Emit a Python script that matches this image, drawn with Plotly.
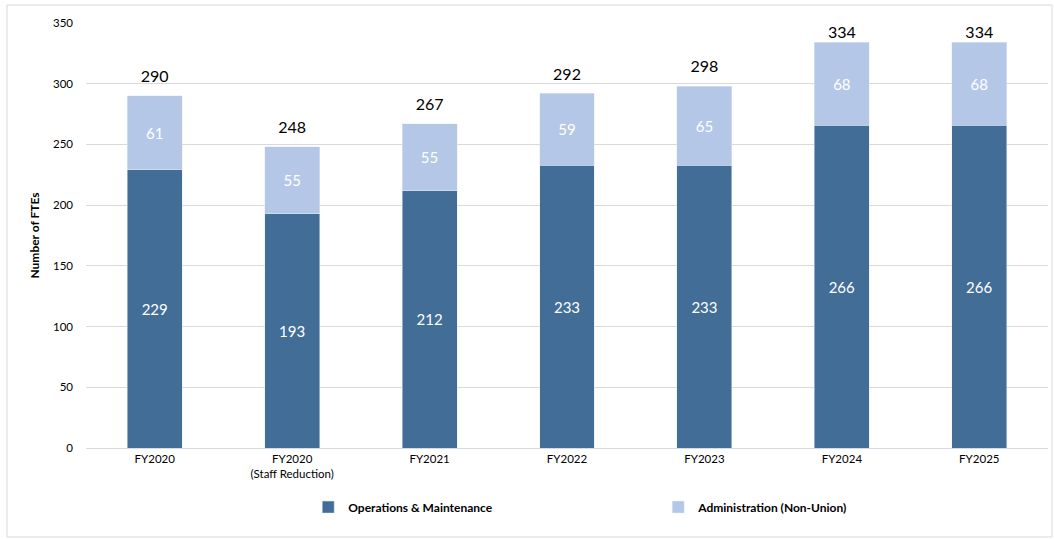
import plotly.graph_objects as go

categories = ["FY2020", "FY2020<br>(Staff Reduction)", "FY2021", "FY2022", "FY2023", "FY2024", "FY2025"]
ops_maint = [229, 193, 212, 233, 233, 266, 266]
admin = [61, 55, 55, 59, 65, 68, 68]
totals = [290, 248, 267, 292, 298, 334, 334]

DARK = "#416d97"
LIGHT = "#b4c7e7"
FONT = "Lato"
Y_MAX = 350

fig = go.Figure()
fig.add_trace(go.Bar(
    x=categories, y=ops_maint, name="Operations & Maintenance",
    marker=dict(color=DARK), width=0.4,
    text=ops_maint, textposition="inside", insidetextanchor="middle",
    textfont=dict(color="white", size=15, family=FONT),
))
fig.add_trace(go.Bar(
    x=categories, y=admin, name="Administration (Non-Union)",
    marker=dict(color=LIGHT), width=0.4,
    text=admin, textposition="inside", insidetextanchor="middle",
    textfont=dict(color="white", size=15, family=FONT),
))
# total labels: kept inside the plot area when near the top (as in the reference)
label_offsets = [14 if t < Y_MAX - 25 else 0 for t in totals]
fig.add_trace(go.Scatter(
    x=categories, y=totals, mode="markers+text", text=totals,
    marker=dict(size=label_offsets, color="rgba(0,0,0,0)",
                line=dict(width=0, color="rgba(0,0,0,0)")),
    textposition="top center", showlegend=False, hoverinfo="skip",
    cliponaxis=False,
    textfont=dict(color="#000000", size=16, family=FONT),
))

fig.update_layout(
    barmode="stack",
    width=1054, height=539,
    margin=dict(l=86, r=6, t=23, b=91),
    paper_bgcolor="white", plot_bgcolor="white",
    font=dict(family=FONT, size=11, color="#000000"),
    uniformtext=dict(minsize=8, mode="show"),
    legend=dict(
        orientation="h", x=0.231, xanchor="left", y=-0.139, yanchor="middle",
        traceorder="normal",
        font=dict(size=12, family=FONT, weight="bold"),
        entrywidth=305, entrywidthmode="pixels",
        itemwidth=30,
    ),
    showlegend=True,
)
fig.update_xaxes(
    showline=True, linecolor="#d9d9d9", linewidth=1,
    tickfont=dict(size=11.5, family=FONT), ticks="",
)
fig.update_yaxes(
    range=[0, Y_MAX], dtick=50, showgrid=True, gridcolor="#d9d9d9",
    zeroline=False, tickfont=dict(size=11.5, family=FONT),
    title=dict(text="<b>Number of FTEs</b>", font=dict(size=12, family=FONT), standoff=10),
    ticklabelstandoff=12,
)
fig.add_shape(type="rect", xref="paper", yref="paper",
              x0=(7 - 86) / 962, x1=(1052 - 86) / 962,
              y0=(448 - 537) / 425, y1=(448 - 5) / 425,
              line=dict(color="#d9d9d9", width=1), fillcolor="rgba(0,0,0,0)", layer="below")

fig.write_html("out.html")
